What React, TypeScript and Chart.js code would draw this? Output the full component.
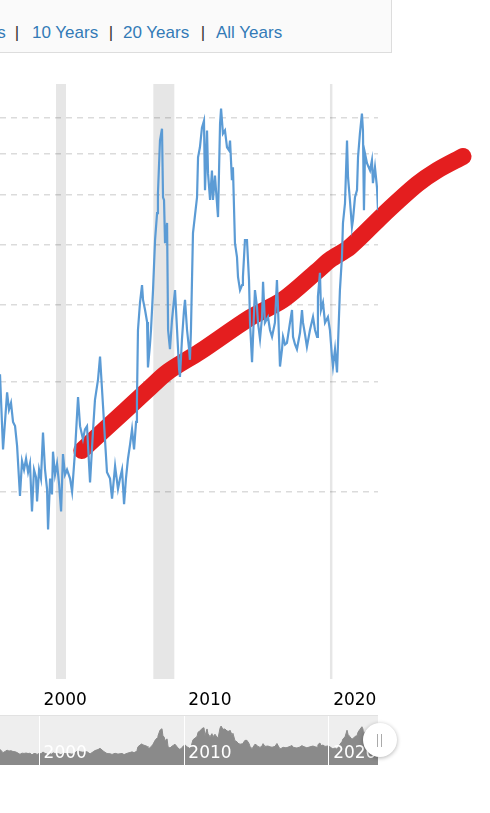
import React, { useEffect, useRef } from 'react';
import { Chart, registerables } from 'chart.js';

Chart.register(...registerables);

// ---- data ----
const years = [
  1997.29, 1997.5, 1997.78, 1997.91, 1998.05, 1998.19, 1998.33, 1998.47, 1998.67, 1998.81,
  1998.95, 1999.09, 1999.23, 1999.36, 1999.5, 1999.64, 1999.78, 1999.85, 1999.99, 2000.12,
  2000.26, 2000.4, 2000.54, 2000.61, 2000.75, 2000.88, 2000.95, 2001.09, 2001.23, 2001.37,
  2001.51, 2001.64, 2001.78, 2001.92, 2002.13, 2002.27, 2002.47, 2002.68, 2002.82, 2003.02,
  2003.16, 2003.3, 2003.51, 2003.72, 2003.85, 2004.06, 2004.2, 2004.41, 2004.54, 2004.68,
  2004.89, 2005.03, 2005.24, 2005.44, 2005.58, 2005.72, 2005.86, 2005.99, 2006.13, 2006.27,
  2006.41, 2006.55, 2006.69, 2006.75, 2006.82, 2006.96, 2007.1, 2007.17, 2007.31, 2007.45,
  2007.51, 2007.65, 2007.72, 2007.86, 2008.0, 2008.14, 2008.2, 2008.34, 2008.48, 2008.55,
  2008.62, 2008.69, 2008.83, 2008.9, 2009.03, 2009.17, 2009.31, 2009.38, 2009.52, 2009.66,
  2009.72, 2009.86, 2010.0, 2010.07, 2010.21, 2010.35, 2010.41, 2010.48, 2010.62, 2010.76,
  2010.9, 2010.97, 2011.1, 2011.24, 2011.38, 2011.45, 2011.59, 2011.66, 2011.8, 2011.93,
  2012.0, 2012.14, 2012.21, 2012.35, 2012.49, 2012.56, 2012.69, 2012.83, 2012.97, 2013.11,
  2013.18, 2013.31, 2013.38, 2013.52, 2013.66, 2013.73, 2013.87, 2014.01, 2014.07, 2014.21,
  2014.35, 2014.49, 2014.56, 2014.7, 2014.9, 2015.04, 2015.11, 2015.25, 2015.39, 2015.46,
  2015.59, 2015.8, 2015.94, 2016.08, 2016.28, 2016.42, 2016.49, 2016.63, 2016.77, 2016.84,
  2016.98, 2017.11, 2017.32, 2017.46, 2017.53, 2017.67, 2017.8, 2018.01, 2018.15, 2018.22,
  2018.36, 2018.49, 2018.7, 2018.91, 2019.05, 2019.19, 2019.25, 2019.39, 2019.46, 2019.6,
  2019.74, 2019.94, 2020.08, 2020.22, 2020.29, 2020.43, 2020.57, 2020.64, 2020.77, 2020.91,
  2020.98, 2021.12, 2021.26, 2021.33, 2021.46, 2021.6, 2021.67, 2021.81, 2021.95, 2022.02,
  2022.15, 2022.29, 2022.36, 2022.43, 2022.5, 2022.64, 2022.85, 2022.98, 2023.05, 2023.19,
  2023.33, 2023.4,
];
const prices = [
  3.09, 2.34, 2.89, 2.71, 2.78, 2.59, 2.55, 2.37, 1.97, 2.24,
  2.17, 2.26, 2.15, 2.22, 1.86, 2.17, 2.11, 1.93, 2.17, 2.1,
  2.49, 2.17, 2.02, 1.74, 2.1, 1.98, 2.32, 2.13, 2.22, 2.06,
  1.86, 2.3, 2.13, 2.17, 2.1, 2.0, 2.32, 2.84, 2.55, 2.43,
  2.52, 2.55, 2.07, 2.52, 2.81, 3.03, 3.3, 2.74, 2.43, 2.15,
  2.1, 1.95, 2.2, 2.02, 2.1, 2.17, 1.91, 2.1, 2.26, 2.38,
  2.52, 2.34, 2.59, 2.81, 3.64, 4.03, 4.3, 4.07, 3.92, 3.75,
  3.17, 3.45, 3.64, 4.22, 5.08, 5.61, 6.04, 7.34, 7.67, 5.95,
  5.89, 5.02, 5.41, 3.64, 3.39, 3.78, 4.07, 4.22, 3.64, 3.15,
  3.06, 3.52, 3.92, 4.07, 3.64, 3.39, 3.26, 3.64, 5.21, 5.57,
  5.95, 6.9, 7.16, 7.7, 7.9, 6.11, 7.62, 6.5, 5.89, 6.57,
  5.89, 6.45, 6.11, 5.53, 7.82, 8.26, 7.53, 7.62, 7.16, 7.08,
  7.34, 6.34, 6.65, 5.02, 4.77, 4.43, 4.22, 4.3, 4.43, 5.08,
  5.08, 4.38, 3.74, 3.23, 4.22, 3.97, 3.74, 3.52, 3.82, 4.35,
  3.74, 3.82, 3.64, 3.55, 3.74, 4.38, 3.97, 3.18, 3.39, 3.55,
  3.45, 3.47, 3.74, 3.92, 3.55, 3.45, 3.39, 3.6, 3.92, 3.74,
  3.58, 3.42, 3.64, 3.82, 3.64, 3.55, 4.12, 4.5, 3.92, 4.03,
  3.74, 3.82, 3.64, 3.3, 3.18, 3.39, 3.11, 3.47, 4.22, 4.77,
  5.41, 5.82, 7.34, 6.41, 5.89, 5.33, 5.47, 5.95, 6.11, 6.9,
  7.53, 8.11, 7.62, 5.67, 7.0, 6.75, 6.57, 6.82, 6.27, 6.65,
  6.17, 5.67,
];

const trendYears = [2002.94, 2005.93, 2007.65, 2008.9, 2011.11, 2014.56, 2016.84, 2019.16, 2020.08, 2021.46, 2023.88, 2026.09, 2027.47, 2029.27];
const trendPrices = [2.33, 2.7, 2.94, 3.12, 3.36, 3.81, 4.07, 4.52, 4.72, 4.95, 5.61, 6.24, 6.57, 6.92];

const recessionStarts = [2001.16, 2007.88, 2020.08];
const recessionEnds = [2001.85, 2009.33, 2020.25];

const gridPrices = [2, 3, 4, 5, 6, 7, 8];
const axisYears = [2000, 2010, 2020];
const rangeButtons = ['5 Years', '10 Years', '20 Years', 'All Years'];

const X_MIN = 1997.29;
const X_MAX = 2023.4;

// ---- layout ----
const buttonLefts = [-51, 32, 123, 216];
const sepLefts = [14.8, 108.8, 200.8];

const bandsPlugin = {
  id: 'recessionBands',
  beforeDraw(chart: any) {
    const { ctx, chartArea, scales } = chart;
    ctx.save();
    ctx.fillStyle = '#e6e6e6';
    recessionStarts.forEach((s, i) => {
      const x1 = scales.x.getPixelForValue(s);
      const x2 = scales.x.getPixelForValue(recessionEnds[i]);
      ctx.fillRect(x1, chartArea.top, x2 - x1, chartArea.bottom - chartArea.top);
    });
    ctx.restore();
  },
};

export default function App() {
  const mainRef = useRef<HTMLCanvasElement>(null);
  const navRef = useRef<HTMLCanvasElement>(null);

  useEffect(() => {
    const series = years.map((x, i) => ({ x, y: prices[i] }));
    // the marker stroke is listed right-to-left so that Chart.js keeps the
    // points that lie beyond the axis maximum (the stroke runs past the plot)
    const trend = trendYears.map((x, i) => ({ x, y: trendPrices[i] })).reverse();
    const yearTicks = (s: any) => {
      s.ticks = axisYears.map((v) => ({ value: v }));
    };

    const main = new Chart(mainRef.current as HTMLCanvasElement, {
      type: 'line',
      data: {
        datasets: [
          {
            data: series,
            borderColor: '#5b9bd5',
            borderWidth: 2.2,
            pointRadius: 0,
            tension: 0,
          },
          {
            data: trend,
            borderColor: '#e41e1f',
            borderWidth: 17,
            pointRadius: 0,
            tension: 0.3,
            borderCapStyle: 'round',
            borderJoinStyle: 'round',
            clip: false,
          } as any,
        ],
      },
      options: {
        animation: false,
        responsive: false,
        events: [],
        layout: { padding: { top: 84, right: 112, left: 0, bottom: 0 } },
        plugins: { legend: { display: false }, tooltip: { enabled: false } },
        scales: {
          x: {
            type: 'linear',
            min: X_MIN,
            max: X_MAX,
            afterBuildTicks: yearTicks,
            afterFit: (s: any) => {
              s.height = 34;
            },
            grid: { display: false, drawTicks: false },
            border: { display: false },
            ticks: {
              callback: (v: any) => String(v),
              color: '#000',
              font: { family: 'DejaVu Sans', size: 17 },
              padding: 11,
              labelOffset: 26,
              maxRotation: 0,
              autoSkip: false,
            },
          },
          y: {
            type: 'logarithmic',
            min: 1,
            max: 9.05,
            afterBuildTicks: (s: any) => {
              s.ticks = gridPrices.map((v) => ({ value: v }));
            },
            afterFit: (s: any) => {
              s.width = 0;
            },
            ticks: { display: false },
            border: { display: false, dash: [6, 5] },
            grid: { color: 'rgba(0,0,0,0.14)', lineWidth: 1.5, drawTicks: false },
          },
        },
      } as any,
      plugins: [bandsPlugin],
    });

    const nav = new Chart(navRef.current as HTMLCanvasElement, {
      type: 'line',
      data: {
        datasets: [
          {
            data: series,
            borderColor: '#8a8a8a',
            backgroundColor: '#8a8a8a',
            borderWidth: 1,
            pointRadius: 0,
            tension: 0,
            fill: 'start',
          },
        ],
      },
      options: {
        animation: false,
        responsive: false,
        events: [],
        layout: { padding: 0 },
        plugins: { legend: { display: false }, tooltip: { enabled: false } },
        scales: {
          x: {
            type: 'linear',
            min: X_MIN,
            max: X_MAX,
            afterBuildTicks: yearTicks,
            afterFit: (s: any) => {
              s.height = 0;
            },
            grid: { color: '#ffffff', lineWidth: 1, drawTicks: false, z: 1 },
            border: { display: false },
            ticks: {
              callback: (v: any) => String(v),
              color: '#ffffff',
              font: { family: 'DejaVu Sans', size: 17 },
              mirror: true,
              padding: 1,
              labelOffset: 26,
              maxRotation: 0,
              autoSkip: false,
              z: 2,
            },
          },
          y: { type: 'linear', display: false, min: -0.4, max: 10.5 },
        },
      } as any,
    });

    return () => {
      main.destroy();
      nav.destroy();
    };
  }, []);

  const textFont = '17px "Liberation Sans", Arial, sans-serif';

  return (
    <div style={{ position: 'absolute', left: 0, top: 0, width: 490, height: 813, overflow: 'hidden', background: '#fff' }}>
      <canvas ref={mainRef} width={490} height={713} style={{ position: 'absolute', left: 0, top: 0 }} />
      <canvas ref={navRef} width={378} height={49} style={{ position: 'absolute', left: 0, top: 716, background: '#eeeeee' }} />
      <div style={{ position: 'absolute', left: 0, top: 715, width: 378, height: 1, background: '#e2e2e2' }} />
      <div style={{ position: 'absolute', left: -10, top: -10, width: 400, height: 61, background: '#fafafa', border: '1px solid #dddddd' }} />
      {rangeButtons.map((label, i) => (
        <span
          key={label}
          style={{ position: 'absolute', left: buttonLefts[i], top: 23, font: textFont, lineHeight: '20px', color: '#337ab7', whiteSpace: 'nowrap' }}
        >
          {label}
        </span>
      ))}
      {sepLefts.map((l, i) => (
        <span key={'sep' + i} style={{ position: 'absolute', left: l, top: 23, font: textFont, lineHeight: '20px', color: '#333', whiteSpace: 'nowrap' }}>
          |
        </span>
      ))}
      <div
        style={{
          position: 'absolute',
          left: 363,
          top: 723,
          width: 34,
          height: 34,
          borderRadius: '50%',
          background: '#fff',
          boxShadow: '0 1px 4px rgba(0,0,0,0.3)',
        }}
      >
        <div style={{ position: 'absolute', left: 14, top: 11, width: 1, height: 13, background: '#aaa' }} />
        <div style={{ position: 'absolute', left: 18, top: 11, width: 1, height: 13, background: '#aaa' }} />
      </div>
    </div>
  );
}
